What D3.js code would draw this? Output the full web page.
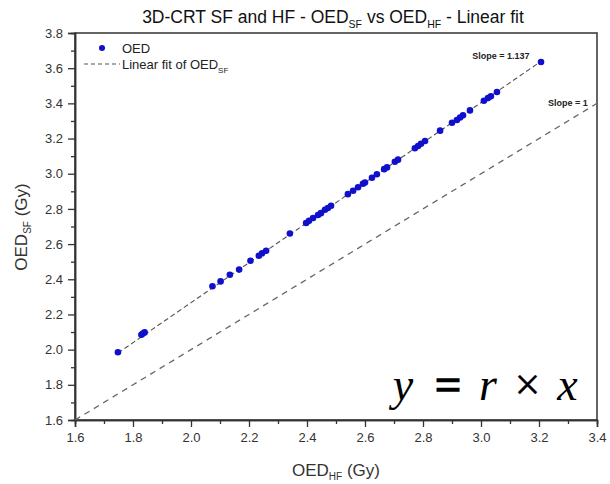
<!DOCTYPE html>
<html><head><meta charset="utf-8">
<script src="https://cdn.jsdelivr.net/npm/d3@7"></script>
<style>
html,body{margin:0;padding:0;background:#fff;}
text{font-family:"Liberation Sans",Arial,sans-serif;}
</style></head>
<body><svg id="chart" width="610" height="484"></svg>
<script>
// ---- data ----
const oedHF = [1.748,1.829,1.834,1.840,2.074,2.102,2.134,2.166,2.205,2.234,2.245,2.259,2.341,2.397,2.407,2.421,2.438,2.448,2.462,2.472,2.483,2.541,2.559,2.576,2.593,2.600,2.624,2.641,2.666,2.676,2.703,2.714,2.772,2.783,2.793,2.807,2.859,2.900,2.917,2.928,2.938,2.962,3.010,3.024,3.034,3.055,3.207];
const oedSF = [1.985,2.085,2.092,2.098,2.360,2.388,2.426,2.455,2.505,2.534,2.548,2.562,2.660,2.720,2.732,2.748,2.765,2.776,2.795,2.805,2.818,2.884,2.903,2.923,2.943,2.950,2.977,2.997,3.026,3.036,3.068,3.080,3.145,3.158,3.170,3.186,3.245,3.290,3.305,3.320,3.332,3.360,3.415,3.430,3.440,3.465,3.635];
const fitSlope = 1.137;
const fitIntercept = -0.007;
const identitySlope = 1;
const xTicks = [1.6,1.8,2.0,2.2,2.4,2.6,2.8,3.0,3.2,3.4];
const yTicks = [1.6,1.8,2.0,2.2,2.4,2.6,2.8,3.0,3.2,3.4,3.6,3.8];
const xDomain = [1.6,3.4];
const yDomain = [1.6,3.8];

// ---- layout ----
const svg = d3.select("#chart");
const L = 75, R = 597, T = 33, B = 420;
const x = d3.scaleLinear().domain(xDomain).range([L,R]);
const y = d3.scaleLinear().domain(yDomain).range([B,T]);
const ink = "#333";

// minor ticks (midpoints between major ticks)
const xMinor = xTicks.slice(0,-1).map((v,i)=>(v+xTicks[i+1])/2);
const yMinor = yTicks.slice(0,-1).map((v,i)=>(v+yTicks[i+1])/2);

// frame
svg.append("rect").attr("x",L).attr("y",T).attr("width",R-L).attr("height",B-T)
  .attr("fill","none").attr("stroke",ink).attr("stroke-width",1.5);

function styleAxis(g){
  g.select(".domain").attr("stroke",ink).attr("stroke-width",1.5);
  g.selectAll(".tick line").attr("stroke",ink).attr("stroke-width",1.3);
  g.selectAll(".tick text").attr("fill","#333").style("font-size","13px")
   .style("font-family","'Liberation Sans',Arial,sans-serif");
}
const xAx = svg.append("g").attr("transform",`translate(0,${B})`)
  .call(d3.axisBottom(x).tickValues(xTicks).tickFormat(d3.format(".1f")).tickSize(7).tickPadding(6));
styleAxis(xAx);
const xAxMin = svg.append("g").attr("transform",`translate(0,${B})`)
  .call(d3.axisBottom(x).tickValues(xMinor).tickFormat("").tickSize(4));
styleAxis(xAxMin);
const yAx = svg.append("g").attr("transform",`translate(${L},0)`)
  .call(d3.axisLeft(y).tickValues(yTicks).tickFormat(d3.format(".1f")).tickSize(7).tickPadding(5));
styleAxis(yAx);
const yAxMin = svg.append("g").attr("transform",`translate(${L},0)`)
  .call(d3.axisLeft(y).tickValues(yMinor).tickFormat("").tickSize(4));
styleAxis(yAxMin);

// clip
svg.append("clipPath").attr("id","clip").append("rect")
  .attr("x",L).attr("y",T).attr("width",R-L).attr("height",B-T);

// slope = 1 line
const line = d3.line().x(d=>x(d[0])).y(d=>y(d[1]));
svg.append("path").attr("clip-path","url(#clip)")
  .attr("d", line([[xDomain[0],identitySlope*xDomain[0]],[xDomain[1],identitySlope*xDomain[1]]]))
  .attr("fill","none").attr("stroke","#666").attr("stroke-width",1.3).attr("stroke-dasharray","6,5");

// fit line
const xmin = d3.min(oedHF), xmax = d3.max(oedHF);
svg.append("path")
  .attr("d", line([[xmin,fitSlope*xmin+fitIntercept],[xmax,fitSlope*xmax+fitIntercept]]))
  .attr("fill","none").attr("stroke","#555").attr("stroke-width",1.1).attr("stroke-dasharray","5,3");

// points
svg.append("g").selectAll("circle").data(oedHF.map((v,i)=>[v,oedSF[i]])).join("circle")
  .attr("cx",d=>x(d[0])).attr("cy",d=>y(d[1])).attr("r",3.3).attr("fill","#1010cc");

// annotations
svg.append("text").attr("x",501).attr("y",59).attr("text-anchor","middle")
  .style("font-size","9px").style("font-weight","bold").attr("fill","#222").text("Slope = 1.137");
svg.append("text").attr("x",568).attr("y",106).attr("text-anchor","middle")
  .style("font-size","9px").style("font-weight","bold").attr("fill","#222").text("Slope = 1");

// legend
svg.append("circle").attr("cx",102).attr("cy",48).attr("r",3).attr("fill","#1010cc");
svg.append("text").attr("x",122).attr("y",53).style("font-size","13px").attr("fill","#222").text("OED");
svg.append("line").attr("x1",84).attr("x2",120).attr("y1",64).attr("y2",64)
  .attr("stroke","#555").attr("stroke-width",1.1).attr("stroke-dasharray","4,3");
const lg = svg.append("text").attr("x",122).attr("y",69).style("font-size","13px").attr("fill","#222");
lg.append("tspan").text("Linear fit of OED");
lg.append("tspan").attr("dy",4).style("font-size","8px").text("SF");

// title
const tt = svg.append("text").attr("x",333).attr("y",23).attr("text-anchor","middle")
  .style("font-size","17.5px").attr("fill","#111");
tt.append("tspan").text("3D-CRT SF and HF - OED");
tt.append("tspan").attr("dy",5).style("font-size","10.5px").text("SF");
tt.append("tspan").attr("dy",-5).text(" vs OED");
tt.append("tspan").attr("dy",5).style("font-size","10.5px").text("HF");
tt.append("tspan").attr("dy",-5).text(" - Linear fit");

// x axis title
const xt = svg.append("text").attr("x",336).attr("y",476).attr("text-anchor","middle")
  .style("font-size","17px").attr("fill","#333");
xt.append("tspan").text("OED");
xt.append("tspan").attr("dy",4).style("font-size","10px").text("HF");
xt.append("tspan").attr("dy",-4).text(" (Gy)");

// y axis title
const yt = svg.append("text").attr("transform","translate(27,227) rotate(-90)").attr("text-anchor","middle")
  .style("font-size","17px").attr("fill","#333");
yt.append("tspan").text("OED");
yt.append("tspan").attr("dy",4).style("font-size","10px").text("SF");
yt.append("tspan").attr("dy",-4).text(" (Gy)");

// formula
const fs = "46px";
const ff = "'Liberation Serif','DejaVu Serif',serif";
[["y",403,true,0],["=",448,false,1.6],["r",488,true,0],["\u00d7",527.5,false,0.4],["x",567.5,true,0]].forEach(([t,cx,it,sw])=>{
  svg.append("text").attr("x",cx).attr("y",400).attr("text-anchor","middle")
    .style("font-family",ff).style("font-size",fs).style("font-style",it?"italic":"normal")
    .attr("fill","#000").attr("stroke",sw?"#000":"none").attr("stroke-width",sw).text(t);
});
</script></body></html>
